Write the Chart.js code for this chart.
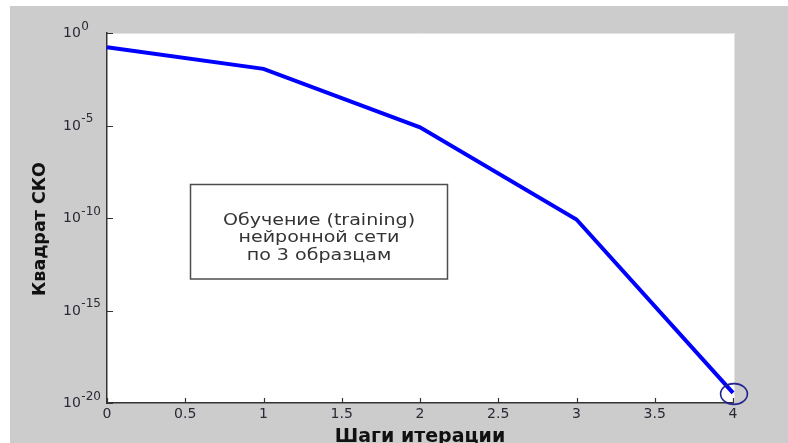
<!DOCTYPE html>
<html>
<head>
<meta charset="utf-8">
<script src="https://cdn.jsdelivr.net/npm/chart.js@4/dist/chart.umd.min.js"></script>
<style>
  html, body { margin: 0; padding: 0; background: #ffffff; }
  canvas { display: block; }
</style>
</head>
<body>
<canvas id="chart" width="788" height="443"></canvas>
<script>
// Training error per iteration step (log scale)
const steps = [0, 1, 2, 3, 4];
const mse = [0.17, 0.0115, 7.9e-6, 8.3e-11, 3.5e-20];
const xTickStep = 0.5;
const yTickExponents = [0, -5, -10, -15, -20];
const xAxisTitle = 'Шаги итерации';
const yAxisTitle = 'Квадрат СКО';
const noteLines = ['Обучение (training)', 'нейронной сети', 'по 3 образцам'];

// hollow ellipse used as the marker of the final step
function makeRing(w, h, color, lw) {
  const c = document.createElement('canvas');
  c.width = w; c.height = h;
  const g = c.getContext('2d');
  g.strokeStyle = color;
  g.lineWidth = lw;
  g.beginPath();
  g.ellipse(w / 2 + 1, h / 2 + 1, w / 2 - lw - 1, h / 2 - lw - 1, 0, 0, Math.PI * 2);
  g.stroke();
  return c;
}
const ring = makeRing(32, 26, '#1f1f8f', 1.6);
const lastIndex = steps.length - 1;

const points = steps.map((s, i) => ({ x: s, y: mse[i] }));

const figure = {
  id: 'figure',
  beforeDraw(chart) {
    const { ctx, chartArea: a, width, height } = chart;
    ctx.save();
    ctx.fillStyle = '#ffffff';
    ctx.fillRect(0, 0, width, height);
    ctx.fillStyle = '#cccccc';
    ctx.fillRect(10, 6, width - 10, height - 6);
    ctx.fillStyle = '#ffffff';
    ctx.fillRect(a.left, a.top, a.right - a.left + 2, a.bottom - a.top);
    ctx.strokeStyle = '#e4e4e4';
    ctx.lineWidth = 1;
    ctx.beginPath();
    ctx.moveTo(a.left, a.top + 0.5);
    ctx.lineTo(a.right + 1.5, a.top + 0.5);
    ctx.lineTo(a.right + 1.5, a.bottom);
    ctx.stroke();
    ctx.restore();
  },
  afterDraw(chart) {
    const { ctx, chartArea: a, scales: { x, y } } = chart;
    ctx.save();

    // inward tick marks
    ctx.strokeStyle = '#333333';
    ctx.lineWidth = 1.2;
    ctx.beginPath();
    x.ticks.forEach(t => {
      const px = Math.round(x.getPixelForValue(t.value)) + 0.5;
      ctx.moveTo(px, a.bottom);
      ctx.lineTo(px, a.bottom - 5);
    });
    y.ticks.forEach(t => {
      const py = Math.round(y.getPixelForValue(t.value)) + 0.5;
      ctx.moveTo(a.left, py);
      ctx.lineTo(a.left + 6, py);
    });
    ctx.stroke();

    // y tick labels as powers of ten
    ctx.fillStyle = '#2a2a35';
    ctx.textAlign = 'left';
    ctx.textBaseline = 'middle';
    yTickExponents.forEach(e => {
      const py = y.getPixelForValue(Math.pow(10, e));
      ctx.font = '14px "DejaVu Sans"';
      ctx.fillText('10', 63, py + 0.5);
      const w = ctx.measureText('10').width;
      ctx.font = '12px "DejaVu Sans"';
      ctx.fillText(String(e), 63 + w + 0.5, py - 6.5);
    });

    // axis titles
    ctx.fillStyle = '#111111';
    ctx.textAlign = 'center';
    ctx.textBaseline = 'alphabetic';
    ctx.font = 'bold 19px "DejaVu Sans"';
    ctx.fillText(xAxisTitle, (a.left + a.right) / 2, 442);

    ctx.save();
    ctx.translate(45, 229);
    ctx.rotate(-Math.PI / 2);
    ctx.font = 'bold 17.5px "DejaVu Sans"';
    ctx.fillText(yAxisTitle, 0, 0);
    ctx.restore();

    // note box
    ctx.strokeStyle = '#4d4d4d';
    ctx.lineWidth = 1.5;
    ctx.strokeRect(190.5, 184.5, 257, 94.5);
    ctx.fillStyle = '#333333';
    ctx.font = '16px "DejaVu Sans"';
    noteLines.forEach((s, i) => {
      ctx.save();
      ctx.translate(319, 224.5 + i * 17.5);
      ctx.scale(1.19, 1);
      ctx.fillText(s, 0, 0);
      ctx.restore();
    });

    ctx.restore();
  }
};

new Chart(document.getElementById('chart'), {
  type: 'line',
  data: {
    datasets: [{
      data: points,
      borderColor: '#0000ff',
      borderWidth: 4,
      fill: false,
      tension: 0,
      clip: false,
      pointStyle: ring,
      pointRadius: ctx => (ctx.dataIndex === lastIndex ? 12 : 0),
      pointHoverRadius: 0
    }]
  },
  options: {
    responsive: false,
    animation: false,
    devicePixelRatio: 1,
    events: [],
    layout: { padding: { left: 0, top: 33, right: 55, bottom: 0 } },
    plugins: { legend: { display: false }, tooltip: { enabled: false } },
    scales: {
      x: {
        type: 'linear',
        min: 0,
        max: 4,
        ticks: {
          stepSize: xTickStep,
          autoSkip: false,
          maxRotation: 0,
          padding: 3,
          color: '#2a2a35',
          font: { family: 'DejaVu Sans', size: 14 },
          callback: v => String(v)
        },
        grid: { display: false, drawTicks: false },
        border: { display: true, color: '#333333', width: 1.5 },
        afterFit(scale) { scale.height = 40; }
      },
      y: {
        type: 'logarithmic',
        min: Math.pow(10, yTickExponents[yTickExponents.length - 1]),
        max: Math.pow(10, yTickExponents[0]),
        ticks: { display: false },
        afterBuildTicks(scale) {
          scale.ticks = yTickExponents.map(e => ({ value: Math.pow(10, e) }));
        },
        grid: { display: false, drawTicks: false },
        border: { display: true, color: '#333333', width: 1.5 },
        afterFit(scale) { scale.width = 107; }
      }
    }
  },
  plugins: [figure]
});
</script>
</body>
</html>
